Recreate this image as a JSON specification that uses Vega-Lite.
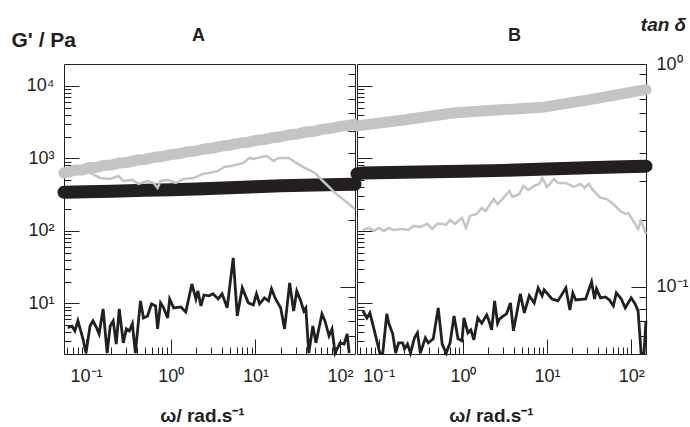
{
  "$schema": "https://vega.github.io/schema/vega-lite/v6.json",
  "background": "white",
  "padding": {"left": 10, "top": 14, "right": 0, "bottom": 0},
  "autosize": {"type": "pad"},
  "config": {
    "font": "Liberation Sans",
    "view": {"stroke": "#231f20", "strokeWidth": 1},
    "axis": {
      "domain": false, "grid": false,
      "labelFont": "Liberation Sans", "labelFontSize": 18, "labelColor": "#231f20",
      "tickColor": "#231f20", "tickWidth": 1,
      "titleFont": "Liberation Sans", "titleFontWeight": "bold", "titleFontSize": 17, "titleColor": "#231f20",
      "labelOverlap": false, "labelFlush": false
    }
  },
  "datasets": {
    "a_gray": [
      {"omega": 0.055, "G": 628}, {"omega": 0.065, "G": 657}, {"omega": 0.075, "G": 690}, {"omega": 0.09, "G": 690},
      {"omega": 0.11, "G": 745}, {"omega": 0.13, "G": 740}, {"omega": 0.16, "G": 795}, {"omega": 0.2, "G": 810},
      {"omega": 0.25, "G": 865}, {"omega": 0.3, "G": 875}, {"omega": 0.4, "G": 945}, {"omega": 0.5, "G": 965},
      {"omega": 0.65, "G": 1035}, {"omega": 0.8, "G": 1060}, {"omega": 1.0, "G": 1125}, {"omega": 1.3, "G": 1165},
      {"omega": 1.6, "G": 1235}, {"omega": 2.0, "G": 1265}, {"omega": 2.5, "G": 1345}, {"omega": 3.2, "G": 1390},
      {"omega": 4, "G": 1475}, {"omega": 5, "G": 1515}, {"omega": 6.5, "G": 1620}, {"omega": 8, "G": 1660},
      {"omega": 10, "G": 1760}, {"omega": 13, "G": 1825}, {"omega": 16, "G": 1930}, {"omega": 20, "G": 1985},
      {"omega": 25, "G": 2110}, {"omega": 32, "G": 2170}, {"omega": 40, "G": 2310}, {"omega": 50, "G": 2370},
      {"omega": 65, "G": 2540}, {"omega": 80, "G": 2600}, {"omega": 100, "G": 2760}, {"omega": 125, "G": 2840},
      {"omega": 150, "G": 2950}
    ],
    "a_black": [
      {"omega": 0.055, "G": 340}, {"omega": 0.1, "G": 346}, {"omega": 0.2, "G": 352}, {"omega": 0.5, "G": 362},
      {"omega": 1, "G": 370}, {"omega": 2, "G": 378}, {"omega": 5, "G": 392}, {"omega": 10, "G": 405},
      {"omega": 20, "G": 418}, {"omega": 50, "G": 430}, {"omega": 100, "G": 437}, {"omega": 150, "G": 440}
    ],
    "a_thin_gray": [
      {"omega": 0.055, "tan": 0.3246}, {"omega": 0.0848, "tan": 0.3315}, {"omega": 0.1179, "tan": 0.3213},
      {"omega": 0.1468, "tan": 0.3083}, {"omega": 0.1931, "tan": 0.305}, {"omega": 0.2404, "tan": 0.3148},
      {"omega": 0.2757, "tan": 0.2987}, {"omega": 0.3529, "tan": 0.302}, {"omega": 0.4159, "tan": 0.2897},
      {"omega": 0.5327, "tan": 0.2987}, {"omega": 0.6277, "tan": 0.2925}, {"omega": 0.6998, "tan": 0.278},
      {"omega": 0.76, "tan": 0.2987}, {"omega": 0.9209, "tan": 0.302}, {"omega": 1.147, "tan": 0.2925},
      {"omega": 1.429, "tan": 0.305}, {"omega": 1.877, "tan": 0.3083}, {"omega": 2.404, "tan": 0.3213},
      {"omega": 2.834, "tan": 0.3246}, {"omega": 3.628, "tan": 0.3315}, {"omega": 4.276, "tan": 0.3453},
      {"omega": 5.179, "tan": 0.349}, {"omega": 7.197, "tan": 0.3599}, {"omega": 8.483, "tan": 0.3788},
      {"omega": 9.47, "tan": 0.3751}, {"omega": 11.79, "tan": 0.3828}, {"omega": 13.51, "tan": 0.3866},
      {"omega": 16.38, "tan": 0.3673}, {"omega": 18.78, "tan": 0.3788}, {"omega": 24.7, "tan": 0.3788},
      {"omega": 29.1, "tan": 0.3637}, {"omega": 38.3, "tan": 0.3418}, {"omega": 50.4, "tan": 0.3246},
      {"omega": 66.3, "tan": 0.2925}, {"omega": 87.2, "tan": 0.264}, {"omega": 114.8, "tan": 0.2431},
      {"omega": 150, "tan": 0.2238}
    ],
    "a_thin_black": [
      {"omega": 0.0611, "tan": 0.0655}, {"omega": 0.0681, "tan": 0.0668}, {"omega": 0.074, "tan": 0.0635},
      {"omega": 0.0803, "tan": 0.0704}, {"omega": 0.0921, "tan": 0.0585}, {"omega": 0.1, "tan": 0.0505},
      {"omega": 0.1116, "tan": 0.0668}, {"omega": 0.1211, "tan": 0.0704}, {"omega": 0.1352, "tan": 0.0648},
      {"omega": 0.1429, "tan": 0.0616}, {"omega": 0.1593, "tan": 0.0797}, {"omega": 0.1778, "tan": 0.0505},
      {"omega": 0.1931, "tan": 0.0668}, {"omega": 0.2096, "tan": 0.0704}, {"omega": 0.2276, "tan": 0.0554},
      {"omega": 0.2471, "tan": 0.0797}, {"omega": 0.2757, "tan": 0.0561}, {"omega": 0.2994, "tan": 0.0648},
      {"omega": 0.325, "tan": 0.0635}, {"omega": 0.3529, "tan": 0.0683}, {"omega": 0.3831, "tan": 0.0505},
      {"omega": 0.4397, "tan": 0.0865}, {"omega": 0.4774, "tan": 0.0726}, {"omega": 0.5327, "tan": 0.0741},
      {"omega": 0.5943, "tan": 0.0839}, {"omega": 0.6631, "tan": 0.0822}, {"omega": 0.6998, "tan": 0.0648},
      {"omega": 0.76, "tan": 0.0848}, {"omega": 0.8254, "tan": 0.0805}, {"omega": 0.9209, "tan": 0.0726},
      {"omega": 0.9729, "tan": 0.0883}, {"omega": 1.086, "tan": 0.0805}, {"omega": 1.316, "tan": 0.0813},
      {"omega": 1.508, "tan": 0.0772}, {"omega": 1.778, "tan": 0.1031}, {"omega": 1.985, "tan": 0.0883},
      {"omega": 2.096, "tan": 0.0959}, {"omega": 2.276, "tan": 0.0822}, {"omega": 2.471, "tan": 0.092},
      {"omega": 2.834, "tan": 0.0912}, {"omega": 3.162, "tan": 0.0931}, {"omega": 3.628, "tan": 0.0883},
      {"omega": 4.047, "tan": 0.0931}, {"omega": 4.642, "tan": 0.0805}, {"omega": 5.47, "tan": 0.1349},
      {"omega": 6.11, "tan": 0.0741}, {"omega": 7.0, "tan": 0.099}, {"omega": 8.25, "tan": 0.0848},
      {"omega": 9.47, "tan": 0.083}, {"omega": 10.3, "tan": 0.0931}, {"omega": 11.2, "tan": 0.0839},
      {"omega": 12.8, "tan": 0.0893}, {"omega": 14.3, "tan": 0.0865}, {"omega": 15.5, "tan": 0.098},
      {"omega": 17.3, "tan": 0.0883}, {"omega": 19.9, "tan": 0.0805}, {"omega": 22.1, "tan": 0.0648},
      {"omega": 25.4, "tan": 0.1042}, {"omega": 28.3, "tan": 0.078}, {"omega": 30.8, "tan": 0.0959},
      {"omega": 34.3, "tan": 0.0865}, {"omega": 37.3, "tan": 0.078}, {"omega": 39.4, "tan": 0.0805},
      {"omega": 42.7, "tan": 0.0505}, {"omega": 47.7, "tan": 0.0668}, {"omega": 51.8, "tan": 0.0561},
      {"omega": 61.1, "tan": 0.0757}, {"omega": 66.3, "tan": 0.0704}, {"omega": 74.0, "tan": 0.0603},
      {"omega": 80.3, "tan": 0.0648}, {"omega": 87.2, "tan": 0.0505}, {"omega": 100, "tan": 0.0561},
      {"omega": 111.6, "tan": 0.0554}, {"omega": 121.2, "tan": 0.0616}, {"omega": 128, "tan": 0.0505}
    ],
    "b_gray": [
      {"omega": 0.055, "G": 2800}, {"omega": 0.0614, "G": 2850}, {"omega": 0.197, "G": 3375},
      {"omega": 0.76, "G": 4220}, {"omega": 2.25, "G": 4590}, {"omega": 8.73, "G": 5050},
      {"omega": 36.7, "G": 6620}, {"omega": 131, "G": 8670}, {"omega": 150, "G": 8800}
    ],
    "b_black": [
      {"omega": 0.055, "G": 610}, {"omega": 0.0648, "G": 627}, {"omega": 0.3, "G": 650},
      {"omega": 1, "G": 665}, {"omega": 3.12, "G": 682}, {"omega": 10, "G": 710},
      {"omega": 30, "G": 740}, {"omega": 80, "G": 765}, {"omega": 150, "G": 780}
    ],
    "b_thin_gray": [
      {"omega": 0.0648, "tan": 0.1802}, {"omega": 0.0762, "tan": 0.1839}, {"omega": 0.0874, "tan": 0.1783},
      {"omega": 0.1, "tan": 0.1839}, {"omega": 0.1145, "tan": 0.1783}, {"omega": 0.1312, "tan": 0.1839},
      {"omega": 0.1501, "tan": 0.1802}, {"omega": 0.1915, "tan": 0.182}, {"omega": 0.2254, "tan": 0.1802},
      {"omega": 0.2582, "tan": 0.1878}, {"omega": 0.3119, "tan": 0.1858}, {"omega": 0.3768, "tan": 0.1918},
      {"omega": 0.4317, "tan": 0.182}, {"omega": 0.4945, "tan": 0.1918}, {"omega": 0.5662, "tan": 0.1918},
      {"omega": 0.631, "tan": 0.1898}, {"omega": 0.7031, "tan": 0.1996}, {"omega": 0.8052, "tan": 0.1918},
      {"omega": 0.9733, "tan": 0.2039}, {"omega": 1.084, "tan": 0.1839}, {"omega": 1.209, "tan": 0.2082},
      {"omega": 1.462, "tan": 0.2125}, {"omega": 1.673, "tan": 0.2261}, {"omega": 1.865, "tan": 0.2192},
      {"omega": 2.078, "tan": 0.2333}, {"omega": 2.316, "tan": 0.2481}, {"omega": 2.58, "tan": 0.2355},
      {"omega": 2.955, "tan": 0.2481}, {"omega": 3.572, "tan": 0.2694}, {"omega": 3.873, "tan": 0.2533},
      {"omega": 4.686, "tan": 0.2612}, {"omega": 5.222, "tan": 0.2838}, {"omega": 5.975, "tan": 0.2722},
      {"omega": 7.031, "tan": 0.2838}, {"omega": 8.052, "tan": 0.2897}, {"omega": 8.733, "tan": 0.3083},
      {"omega": 10.0, "tan": 0.2808}, {"omega": 12.09, "tan": 0.305}, {"omega": 13.47, "tan": 0.2925},
      {"omega": 16.73, "tan": 0.2925}, {"omega": 20.78, "tan": 0.2808}, {"omega": 25.12, "tan": 0.2897},
      {"omega": 28.0, "tan": 0.278}, {"omega": 31.2, "tan": 0.2897}, {"omega": 35.7, "tan": 0.2694},
      {"omega": 43.2, "tan": 0.2507}, {"omega": 50.8, "tan": 0.2481}, {"omega": 61.4, "tan": 0.2355},
      {"omega": 74.3, "tan": 0.2192}, {"omega": 85.0, "tan": 0.2125}, {"omega": 92.2, "tan": 0.2148},
      {"omega": 105.6, "tan": 0.1977}, {"omega": 120.8, "tan": 0.182}, {"omega": 131.2, "tan": 0.1977},
      {"omega": 150, "tan": 0.1728}
    ],
    "b_thin_black": [
      {"omega": 0.0648, "tan": 0.078}, {"omega": 0.0722, "tan": 0.0726}, {"omega": 0.0783, "tan": 0.0764},
      {"omega": 0.0874, "tan": 0.0648}, {"omega": 0.1027, "tan": 0.0505}, {"omega": 0.1114, "tan": 0.0505},
      {"omega": 0.1242, "tan": 0.0757}, {"omega": 0.1312, "tan": 0.0687}, {"omega": 0.1462, "tan": 0.0616},
      {"omega": 0.1585, "tan": 0.0505}, {"omega": 0.1718, "tan": 0.0561}, {"omega": 0.1915, "tan": 0.0561},
      {"omega": 0.2023, "tan": 0.0527}, {"omega": 0.2193, "tan": 0.0554}, {"omega": 0.2378, "tan": 0.0505},
      {"omega": 0.2653, "tan": 0.0591}, {"omega": 0.2876, "tan": 0.0622}, {"omega": 0.3119, "tan": 0.0505},
      {"omega": 0.3573, "tan": 0.0591}, {"omega": 0.3873, "tan": 0.0561}, {"omega": 0.4436, "tan": 0.0585},
      {"omega": 0.5081, "tan": 0.0805}, {"omega": 0.5662, "tan": 0.0554}, {"omega": 0.631, "tan": 0.0505},
      {"omega": 0.7031, "tan": 0.0561}, {"omega": 0.7835, "tan": 0.0741}, {"omega": 0.8733, "tan": 0.0585},
      {"omega": 0.9733, "tan": 0.0573}, {"omega": 1.028, "tan": 0.0726}, {"omega": 1.145, "tan": 0.0622},
      {"omega": 1.242, "tan": 0.0641}, {"omega": 1.347, "tan": 0.0579}, {"omega": 1.501, "tan": 0.0726},
      {"omega": 1.673, "tan": 0.0687}, {"omega": 1.915, "tan": 0.0749}, {"omega": 2.022, "tan": 0.0711},
      {"omega": 2.193, "tan": 0.0641}, {"omega": 2.378, "tan": 0.0865}, {"omega": 2.58, "tan": 0.0687},
      {"omega": 2.724, "tan": 0.0718}, {"omega": 3.036, "tan": 0.0741}, {"omega": 3.293, "tan": 0.0757},
      {"omega": 3.671, "tan": 0.0848}, {"omega": 3.981, "tan": 0.0635}, {"omega": 4.813, "tan": 0.0931},
      {"omega": 5.361, "tan": 0.0764}, {"omega": 6.139, "tan": 0.0912}, {"omega": 7.031, "tan": 0.0848},
      {"omega": 7.834, "tan": 0.099}, {"omega": 8.733, "tan": 0.0912}, {"omega": 9.217, "tan": 0.097},
      {"omega": 11.45, "tan": 0.0883}, {"omega": 13.47, "tan": 0.0865}, {"omega": 16.73, "tan": 0.099},
      {"omega": 18.66, "tan": 0.0788}, {"omega": 20.23, "tan": 0.094}, {"omega": 21.93, "tan": 0.0874},
      {"omega": 28.76, "tan": 0.0883}, {"omega": 33.83, "tan": 0.1053}, {"omega": 36.7, "tan": 0.0883},
      {"omega": 38.7, "tan": 0.098}, {"omega": 43.2, "tan": 0.0893}, {"omega": 49.4, "tan": 0.0902},
      {"omega": 55.1, "tan": 0.0874}, {"omega": 61.4, "tan": 0.0822}, {"omega": 66.6, "tan": 0.094},
      {"omega": 76.3, "tan": 0.0883}, {"omega": 85.0, "tan": 0.0805}, {"omega": 100, "tan": 0.0893},
      {"omega": 111.4, "tan": 0.0839}, {"omega": 120.8, "tan": 0.078}, {"omega": 131.2, "tan": 0.0505},
      {"omega": 142.2, "tan": 0.0505}, {"omega": 150, "tan": 0.0704}
    ]
  },
  "spacing": 2,
  "bounds": "flush",
  "hconcat": [
    {
      "width": 291, "height": 290,
      "layer": [
        {
          "encoding": {
            "x": {
              "field": "omega", "type": "quantitative",
              "scale": {"type": "log", "domain": [0.055, 150], "nice": false},
              "axis": {
                "orient": "bottom",
                "values": [0.06,0.07,0.08,0.09,0.1,0.2,0.3,0.4,0.5,0.6,0.7,0.8,0.9,1,2,3,4,5,6,7,8,9,10,20,30,40,50,60,70,80,90,100],
                "labelExpr": "datum.value == 0.1 ? '10⁻¹' : datum.value == 1 ? '10⁰' : datum.value == 10 ? '10¹' : datum.value == 100 ? '10²' : ''",
                "tickSize": {"condition": {"test": "indexof([0.1,1,10,100], datum.value) >= 0", "value": -15}, "value": -7},
                "labelPadding": 28,
                "title": "ω/ rad.s⁻¹",
                "titleX": 138, "titleY": 67, "titleAlign": "center", "titleBaseline": "alphabetic", "titleFontSize": 19
              }
            },
            "y": {
              "field": "G", "type": "quantitative",
              "scale": {"type": "log", "domain": [2, 20000], "nice": false},
              "axis": {
                "orient": "left",
                "values": [3,4,5,6,7,8,9,10,20,30,40,50,60,70,80,90,100,200,300,400,500,600,700,800,900,1000,2000,3000,4000,5000,6000,7000,8000,9000,10000],
                "labelExpr": "datum.value == 10 ? '10¹' : datum.value == 100 ? '10²' : datum.value == 1000 ? '10³' : datum.value == 10000 ? '10⁴' : ''",
                "tickSize": {"condition": {"test": "indexof([10,100,1000,10000], datum.value) >= 0", "value": -15}, "value": -7},
                "labelPadding": 25,
                "title": "G' / Pa",
                "titleAngle": 0, "titleAlign": "left", "titleBaseline": "alphabetic",
                "titleX": -53, "titleY": -18, "titleFontSize": 21
              }
            }
          },
          "layer": [
            {"data": {"name": "a_gray"}, "mark": {"type": "line", "color": "#c4c4c4", "strokeWidth": 11, "strokeCap": "round", "strokeJoin": "round", "clip": false}},
            {"data": {"name": "a_black"}, "mark": {"type": "line", "color": "#231f20", "strokeWidth": 13, "strokeCap": "round", "strokeJoin": "round", "clip": false}}
          ]
        },
        {
          "encoding": {
            "x": {
              "field": "omega", "type": "quantitative",
              "scale": {"type": "log", "domain": [0.055, 150], "nice": false},
              "axis": {
                "orient": "top", "ticks": false, "labels": false,
                "title": "A", "titleX": 134, "titleY": -24, "titleAlign": "center", "titleBaseline": "alphabetic", "titleFontSize": 18
              }
            },
            "y": {
              "field": "tan", "type": "quantitative",
              "scale": {"type": "log", "domain": [0.05, 1], "nice": false},
              "axis": {
                "orient": "right",
                "values": [0.06,0.07,0.08,0.09,0.1,0.2,0.3,0.4,0.5,0.6,0.7,0.8,0.9,1],
                "labels": false,
                "tickSize": {"condition": {"test": "indexof([0.1,1], datum.value) >= 0", "value": -15}, "value": -7},
                "title": null
              }
            }
          },
          "layer": [
            {"data": {"name": "a_thin_gray"}, "mark": {"type": "line", "color": "#c4c4c4", "strokeWidth": 2.5}},
            {"data": {"name": "a_thin_black"}, "mark": {"type": "line", "color": "#231f20", "strokeWidth": 2.8}}
          ]
        }
      ],
      "resolve": {"scale": {"y": "independent"}, "axis": {"x": "independent"}}
    },
    {
      "width": 289, "height": 290,
      "layer": [
        {
          "encoding": {
            "x": {
              "field": "omega", "type": "quantitative",
              "scale": {"type": "log", "domain": [0.055, 150], "nice": false},
              "axis": {
                "orient": "bottom",
                "values": [0.06,0.07,0.08,0.09,0.1,0.2,0.3,0.4,0.5,0.6,0.7,0.8,0.9,1,2,3,4,5,6,7,8,9,10,20,30,40,50,60,70,80,90,100],
                "labelExpr": "datum.value == 0.1 ? '10⁻¹' : datum.value == 1 ? '10⁰' : datum.value == 10 ? '10¹' : datum.value == 100 ? '10²' : ''",
                "tickSize": {"condition": {"test": "indexof([0.1,1,10,100], datum.value) >= 0", "value": -15}, "value": -7},
                "labelPadding": 28,
                "title": "ω/ rad.s⁻¹",
                "titleX": 134, "titleY": 67, "titleAlign": "center", "titleBaseline": "alphabetic", "titleFontSize": 19
              }
            },
            "y": {
              "field": "G", "type": "quantitative",
              "scale": {"type": "log", "domain": [2, 20000], "nice": false},
              "axis": {
                "orient": "left",
                "values": [3,4,5,6,7,8,9,10,20,30,40,50,60,70,80,90,100,200,300,400,500,600,700,800,900,1000,2000,3000,4000,5000,6000,7000,8000,9000,10000],
                "labels": false,
                "tickSize": {"condition": {"test": "indexof([10,100,1000,10000], datum.value) >= 0", "value": -15}, "value": -7},
                "title": null
              }
            }
          },
          "layer": [
            {"data": {"name": "b_gray"}, "mark": {"type": "line", "color": "#c4c4c4", "strokeWidth": 11, "strokeCap": "round", "strokeJoin": "round", "clip": false}},
            {"data": {"name": "b_black"}, "mark": {"type": "line", "color": "#231f20", "strokeWidth": 13, "strokeCap": "round", "strokeJoin": "round", "clip": false}}
          ]
        },
        {
          "encoding": {
            "x": {
              "field": "omega", "type": "quantitative",
              "scale": {"type": "log", "domain": [0.055, 150], "nice": false},
              "axis": {
                "orient": "top", "ticks": false, "labels": false,
                "title": "B", "titleX": 157, "titleY": -24, "titleAlign": "center", "titleBaseline": "alphabetic", "titleFontSize": 18
              }
            },
            "y": {
              "field": "tan", "type": "quantitative",
              "scale": {"type": "log", "domain": [0.05, 1], "nice": false},
              "axis": {
                "orient": "right",
                "values": [0.06,0.07,0.08,0.09,0.1,0.2,0.3,0.4,0.5,0.6,0.7,0.8,0.9,1],
                "labelExpr": "datum.value == 0.1 ? '10⁻¹' : datum.value == 1 ? '10⁰' : ''",
                "tickSize": {"condition": {"test": "indexof([0.1,1], datum.value) >= 0", "value": -15}, "value": -7},
                "labelPadding": 25,
                "title": "tan  δ",
                "titleAngle": 0, "titleAlign": "center", "titleBaseline": "alphabetic",
                "titleX": 17, "titleY": -34, "titleFontStyle": "italic", "titleFontSize": 19
              }
            }
          },
          "layer": [
            {"data": {"name": "b_thin_gray"}, "mark": {"type": "line", "color": "#c4c4c4", "strokeWidth": 2.5}},
            {"data": {"name": "b_thin_black"}, "mark": {"type": "line", "color": "#231f20", "strokeWidth": 2.8}}
          ]
        }
      ],
      "resolve": {"scale": {"y": "independent"}, "axis": {"x": "independent"}}
    }
  ]
}
